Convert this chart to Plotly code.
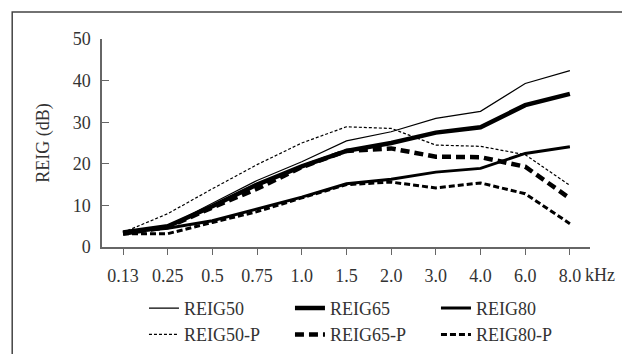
import plotly.graph_objects as go

freqs = ["0.13", "0.25", "0.5", "0.75", "1.0", "1.5", "2.0", "3.0", "4.0", "6.0", "8.0"]

reig50 = [3.7, 5.0, 10.5, 16.0, 20.5, 25.5, 27.7, 30.9, 32.6, 39.3, 42.4]
reig65 = [3.5, 5.0, 9.8, 15.0, 19.4, 23.1, 25.0, 27.5, 28.8, 34.1, 36.8]
reig80 = [3.5, 4.5, 6.3, 9.2, 12.0, 15.2, 16.3, 18.0, 18.9, 22.5, 24.1]
reig50_p = [3.5, 8.0, 14.0, 19.8, 25.0, 28.9, 28.5, 24.5, 24.2, 22.2, 14.8]
reig65_p = [3.2, 4.8, 9.5, 14.0, 19.2, 23.1, 23.7, 21.7, 21.6, 19.3, 11.7]
reig80_p = [3.2, 3.2, 5.9, 8.5, 11.8, 15.0, 15.6, 14.2, 15.4, 12.8, 5.6]

yticks = [0, 10, 20, 30, 40, 50]

FONT = "Liberation Serif"
TXT = "#333333"
AX = "#666666"
FS = 18

series = [
    ("REIG50", reig50, 1.2, "solid"),
    ("REIG65", reig65, 4.5, "solid"),
    ("REIG80", reig80, 3.0, "solid"),
    ("REIG50-P", reig50_p, 1.2, "3px,2px"),
    ("REIG65-P", reig65_p, 4.5, "9px,5px"),
    ("REIG80-P", reig80_p, 3.0, "6px,3px"),
]

fig = go.Figure()
for name, vals, w, dash in series:
    fig.add_trace(go.Scatter(
        x=list(range(len(freqs))), y=vals, name=name, mode="lines",
        line=dict(color="black", width=w, dash=dash),
    ))

fig.update_layout(
    width=622, height=346,
    margin=dict(l=94, r=40, t=31, b=107, autoexpand=False),
    paper_bgcolor="white", plot_bgcolor="white",
    font=dict(family=FONT, size=FS, color=TXT),
    showlegend=True,
    legend=dict(
        orientation="h", x=0.086, xanchor="left", y=-0.206, yanchor="top",
        entrywidth=101, entrywidthmode="pixels",
        font=dict(family=FONT, size=FS, color=TXT),
        bgcolor="rgba(0,0,0,0)", tracegroupgap=0,
    ),
    xaxis=dict(
        tickmode="array", tickvals=list(range(len(freqs))), ticktext=freqs,
        range=[-0.47, 10.45], showgrid=False, zeroline=False,
        showline=True, linecolor=AX, linewidth=1.5,
        ticks="outside", ticklen=6, tickcolor=AX, tickwidth=1.2,
        ticklabelstandoff=6,
        tickfont=dict(family=FONT, size=FS, color=TXT),
    ),
    yaxis=dict(
        tickmode="array", tickvals=yticks, ticktext=[str(v) for v in yticks],
        range=[0, 50], showgrid=False, zeroline=False,
        showline=True, linecolor=AX, linewidth=1.5,
        ticks="inside", ticklen=7, tickcolor=AX, tickwidth=1.2,
        ticklabelstandoff=6,
        tickfont=dict(family=FONT, size=FS, color=TXT),
        title=dict(text="REIG (dB)", font=dict(family=FONT, size=FS, color=TXT), standoff=18),
    ),
    annotations=[dict(
        text="kHz", xref="paper", yref="paper", x=0.985, y=-0.078,
        xanchor="left", yanchor="top", showarrow=False,
        font=dict(family=FONT, size=FS, color=TXT),
    )],
    shapes=[dict(
        type="rect", xref="paper", yref="paper",
        x0=-0.184, x1=1.2, y0=-0.6, y1=1.13,
        line=dict(color="#444444", width=1.5), fillcolor="rgba(0,0,0,0)", layer="below",
    )],
)

fig.write_html("out.html")
